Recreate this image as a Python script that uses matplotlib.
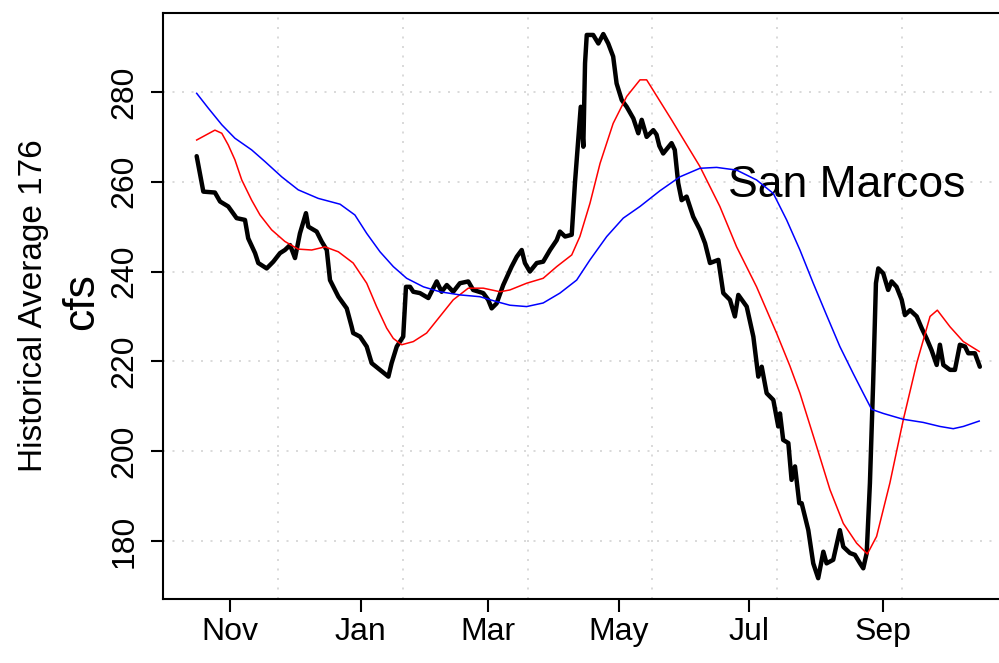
import numpy as np
import matplotlib.pyplot as plt

plt.rcParams['font.family'] = ['Liberation Sans', 'DejaVu Sans']

# x = days since Oct 1 (water year), y = flow in cfs
black_day = [15.5, 17.0, 18.6, 24.0, 26.4, 30.2, 34.1, 38.0, 39.5, 42.7, 44.2, 48.1,
             51.2, 54.3, 56.6, 59.0, 61.3, 63.6, 66.4, 67.5, 71.4, 73.7, 76.1, 77.6,
             81.5, 85.4, 87.7, 88.4, 91.6, 94.7, 97.0, 100.9, 104.8, 106.3, 108.7, 111.7,
             113.0, 114.9, 116.4, 119.5, 123.4, 127.3, 129.6, 132.0, 135.0, 138.1, 142.0,
             144.3, 149.0, 151.3, 152.9, 155.2, 158.3, 162.2, 164.6, 166.9, 168.4, 170.7,
             173.9, 176.9, 180.1, 183.2, 184.7, 187.1, 190.2, 191.7, 193.2, 194.4, 195.6,
             196.4, 197.2, 200.2, 202.6, 204.9, 207.2, 209.5, 211.1, 213.5, 215.8, 218.9,
             221.2, 222.8, 225.1, 228.2, 229.7, 231.0, 232.8, 236.7, 238.2, 239.8, 241.4,
             243.7, 246.8, 249.9, 252.3, 254.6, 258.5, 260.8, 263.9, 266.2, 267.8, 271.7,
             274.8, 277.1, 278.7, 281.0, 284.1, 286.4, 287.2, 288.7, 291.1, 292.6, 294.2,
             296.2, 297.3, 300.4, 302.7, 305.0, 307.4, 308.9, 312.0, 315.1, 316.7, 319.8,
             322.1, 324.5, 326.0, 327.6, 329.1, 330.6, 331.9, 333.0, 335.3, 337.6, 339.2,
             341.5, 343.9, 345.4, 347.8, 350.9, 353.2, 355.5, 357.8, 360.2, 361.7, 363.3,
             366.4, 368.7, 371.0, 373.4, 374.9, 378.0, 380.3]
black_cfs = [265.7, 261.9, 257.8, 257.6, 255.6, 254.5, 251.9, 251.5, 247.4, 244.1, 241.9, 240.7,
             242.2, 244.1, 244.8, 245.9, 243.0, 248.5, 253.0, 250.0, 248.9, 246.7, 244.8, 238.1,
             234.4, 231.8, 227.7, 226.3, 225.5, 223.3, 219.6, 218.1, 216.6, 219.6, 223.3, 225.5,
             236.6, 236.6, 235.5, 235.2, 234.1, 237.8, 235.5, 237.0, 235.5, 237.4, 237.8,
             235.9, 235.2, 233.7, 231.8, 232.9, 237.0, 241.1, 243.3, 244.8, 241.9, 240.0,
             241.9, 242.2, 244.8, 247.0, 248.9, 247.8, 248.2, 259.7, 269.3, 276.7, 267.8,
             286.4, 292.7, 292.7, 290.8, 292.9, 290.8, 287.9, 281.9, 278.2, 276.7, 274.1,
             270.8, 273.8, 270.0, 271.5, 270.5, 268.0, 266.3, 268.6, 267.1, 259.7, 255.9,
             256.7, 252.2, 249.3, 246.3, 241.9, 242.6, 235.2, 233.7, 230.0, 234.8, 232.2,
             225.5, 216.6, 218.8, 212.9, 211.4, 205.5, 208.4, 202.5, 201.8, 193.6, 196.6,
             188.4, 188.4, 182.4, 175.0, 171.7, 177.6, 175.0, 175.8, 182.4, 178.7, 177.3,
             176.9, 175.0, 173.9, 177.3, 192.9, 215.1, 237.4, 240.7, 239.6, 235.9, 237.8,
             236.6, 233.7, 230.3, 231.4, 230.0, 227.4, 225.1, 222.5, 219.2, 223.7, 219.2,
             218.1, 218.1, 223.7, 223.3, 221.8, 221.8, 218.8]

red_day = [15.5, 24.0, 27.2, 30.2, 33.3, 36.5, 41.1, 45.0, 50.4, 56.6, 62.8, 69.1, 75.3,
           81.5, 88.4, 94.7, 99.3, 104.0, 107.1, 111.0, 116.4, 122.6, 128.8, 135.0, 142.0,
           149.0, 156.8, 161.4, 169.2, 176.9, 183.2, 190.2, 194.0, 198.7, 203.4, 209.5,
           215.8, 222.0, 225.1, 236.7, 249.9, 259.2, 267.0, 276.3, 285.6, 291.8, 296.5,
           304.3, 310.5, 316.7, 322.9, 327.9, 332.2, 338.4, 344.6, 350.9, 357.1, 360.5,
           366.4, 372.6, 380.0]
red_cfs = [269.3, 271.5, 270.8, 268.2, 264.9, 260.4, 255.9, 252.6, 249.3, 246.7, 245.0, 244.8, 245.5,
           244.4, 241.9, 237.4, 232.2, 227.4, 225.1, 223.7, 224.4, 226.3, 230.0, 233.7, 236.3,
           236.3, 235.5, 235.9, 237.4, 238.5, 241.1, 243.7, 247.8, 255.2, 264.1, 273.0,
           279.0, 282.7, 282.7, 273.8, 263.4, 254.5, 245.5, 236.6, 226.3, 219.0, 212.9,
           201.0, 191.4, 183.9, 179.5, 177.1, 181.0, 192.9, 206.9, 219.6, 230.0, 231.4,
           227.7, 224.4, 222.2]

blue_day = [15.5, 20.9, 27.2, 33.3, 41.1, 47.3, 55.1, 62.8, 72.1, 82.3, 89.2, 94.7, 100.9,
            107.1, 113.3, 121.1, 128.8, 138.1, 147.4, 155.2, 161.4, 169.2, 176.9, 184.7,
            192.5, 198.7, 206.5, 214.2, 222.0, 231.3, 240.6, 249.9, 257.7, 267.0, 276.3,
            284.1, 290.3, 296.5, 302.7, 308.9, 315.1, 321.3, 326.0, 329.9, 335.3, 344.6,
            353.9, 361.7, 367.9, 372.6, 380.0]
blue_cfs = [279.7, 276.4, 272.7, 269.7, 267.1, 264.5, 261.1, 258.2, 256.3, 255.0, 252.6, 248.5, 244.4,
            241.1, 238.5, 236.6, 235.5, 234.8, 234.4, 233.3, 232.5, 232.2, 233.0, 235.2,
            238.1, 242.6, 247.8, 251.9, 254.5, 258.0, 261.1, 263.0, 263.2, 262.6, 260.4,
            257.4, 251.5, 244.8, 237.4, 230.3, 223.3, 217.3, 212.9, 209.3, 208.4, 207.1,
            206.4, 205.5, 205.0, 205.5, 206.7]

month_day = [31, 92, 151, 212, 273, 335]
month_lab = ['Nov', 'Jan', 'Mar', 'May', 'Jul', 'Sep']
y_ticks = [180, 200, 220, 240, 260, 280]

fig = plt.figure(figsize=(9.99, 6.63), dpi=100)
# plot box runs past the right edge of the image, as in the original
ax = fig.add_axes([163.4 / 999, 63.7 / 663, 848 / 999, 586.8 / 663])
ax.set_xlim(0, 395)
ax.set_ylim(167.0, 297.7)

grid_kw = dict(color='#d3d3d3', lw=1.2, ls=(0, (1.2, 4.5)), zorder=1)
for gx in np.arange(53.4, 395, 58.1):
    ax.axvline(gx, **grid_kw)
for gy in y_ticks:
    ax.axhline(gy, **grid_kw)

ax.plot(black_day, black_cfs, color='black', lw=3.2, solid_joinstyle='round',
        solid_capstyle='round', zorder=3)
ax.plot(red_day, red_cfs, color='red', lw=1.1, zorder=4)
ax.plot(blue_day, blue_cfs, color='blue', lw=1.1, zorder=5)

ax.text(263, 256.6, 'San Marcos', fontsize=32, ha='left', va='baseline')

for s in ax.spines.values():
    s.set_linewidth(1.5)
    s.set_color('black')

ax.set_xticks(month_day, month_lab)
ax.set_yticks(y_ticks)
ax.tick_params(direction='out', length=9, width=1.5, labelsize=23, color='black')
ax.tick_params(axis='x', pad=4)
ax.tick_params(axis='y', pad=8)
for lab in ax.get_yticklabels():
    lab.set_rotation(90)
    lab.set_va('center')

fig.text(42 / 999, 1 - 306 / 663, 'Historical Average 176', fontsize=24, rotation=90,
         rotation_mode='anchor', ha='center', va='baseline')
fig.text(93 / 999, 1 - 302 / 663, 'cfs', fontsize=32, rotation=90,
         rotation_mode='anchor', ha='center', va='baseline')

fig.savefig('out.png', dpi=100)
